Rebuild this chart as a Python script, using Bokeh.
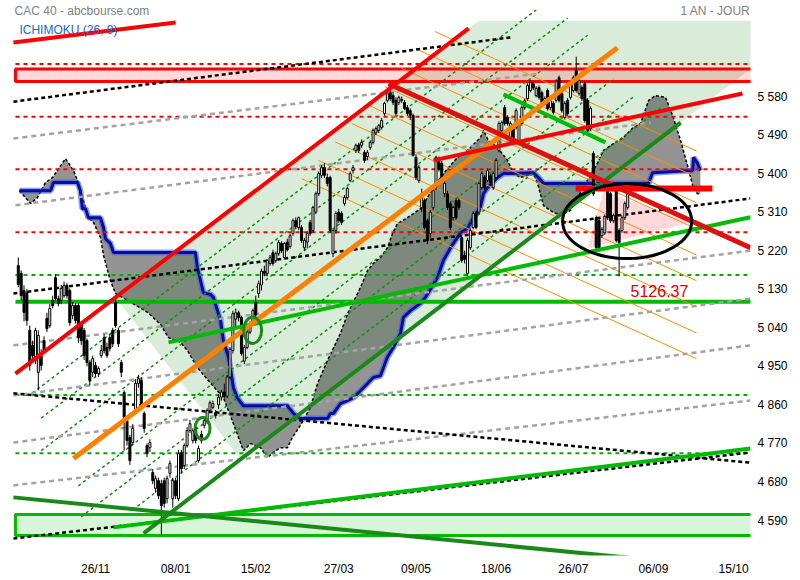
from bokeh.plotting import figure
from bokeh.models import Range1d, LinearAxis, FixedTicker, Label, ColumnDataSource
from bokeh.embed import file_html
from bokeh.resources import INLINE

# ---------------- axis data ----------------
X_TICKS = [27, 55, 83, 112, 139, 167, 194, 222, 250]
X_LABELS = ["26/11", "08/01", "15/02", "27/03", "09/05", "18/06", "26/07", "06/09", "15/10"]
Y_TICKS = [4590, 4680, 4770, 4860, 4950, 5040, 5130, 5220, 5310, 5400, 5490, 5580]

# ---------------- daily candles (trading-day index 0..213) ----------------
OPEN = [5185, 5167, 5127, 5122, 5034, 4999, 4964, 4936, 4975, 5010,
        5062, 5045, 5104, 5157, 5108, 5104, 5115, 5139, 5127, 5069,
        5092, 5092, 5050, 5034, 5010, 4959, 4936, 4952, 4933, 4975,
        5017, 4994, 5017, 5034, 5099, 5034, 4959, 4889, 4823, 4784,
        4772, 4847, 4910, 4917, 4840, 4765, 4760, 4702, 4665, 4683,
        4676, 4683, 4641, 4700, 4641, 4683, 4641, 4749, 4718, 4765,
        4800, 4777, 4807, 4730, 4791, 4812, 4823, 4847, 4854, 4842,
        4860, 4878, 4890, 4880, 4925, 4987, 5060, 5075, 5064, 4962,
        4994, 5030, 5050, 5100, 5120, 5140, 5172, 5167, 5190, 5215,
        5197, 5213, 5237, 5204, 5240, 5230, 5260, 5290, 5274, 5274,
        5227, 5240, 5286, 5267, 5310, 5353, 5396, 5414, 5391, 5391,
        5213, 5267, 5310, 5307, 5330, 5344, 5384, 5407, 5454, 5466,
        5466, 5449, 5440, 5461, 5473, 5495, 5501, 5508, 5540, 5571,
        5589, 5582, 5571, 5566, 5573, 5566, 5554, 5547, 5536, 5438,
        5384, 5320, 5337, 5290, 5260, 5320, 5368, 5430, 5424, 5353,
        5353, 5330, 5297, 5337, 5337, 5250, 5210, 5167, 5227, 5274,
        5307, 5310, 5367, 5391, 5384, 5395, 5367, 5391, 5454, 5501,
        5554, 5531, 5477, 5505, 5508, 5477, 5517, 5554, 5575, 5594,
        5610, 5582, 5601, 5589, 5566, 5594, 5554, 5564, 5571, 5624,
        5587, 5531, 5571, 5578, 5594, 5641, 5587, 5601, 5610, 5571,
        5505, 5447, 5297, 5290, 5255, 5262, 5361, 5353, 5290, 5361,
        5267, 5267, 5297, 5321]
HIGH = [5204, 5174, 5139, 5130, 5045, 5010, 5040, 5034, 4990, 5020,
        5075, 5095, 5115, 5165, 5115, 5140, 5148, 5145, 5132, 5100,
        5098, 5097, 5055, 5040, 5015, 4965, 4975, 4960, 4950, 5000,
        5025, 5005, 5025, 5040, 5110, 5040, 4965, 4894, 4830, 4790,
        4815, 4920, 4930, 4925, 4845, 4770, 4780, 4710, 4695, 4690,
        4685, 4690, 4695, 4730, 4690, 4690, 4755, 4755, 4770, 4808,
        4825, 4805, 4812, 4765, 4800, 4830, 4852, 4870, 4870, 4848,
        4885, 4895, 4910, 4930, 4995, 5080, 5085, 5080, 5068, 5000,
        5035, 5055, 5085, 5115, 5150, 5178, 5185, 5200, 5210, 5222,
        5218, 5245, 5242, 5240, 5248, 5260, 5295, 5298, 5300, 5280,
        5250, 5265, 5292, 5325, 5358, 5405, 5420, 5425, 5400, 5395,
        5270, 5312, 5318, 5312, 5350, 5370, 5405, 5420, 5470, 5472,
        5480, 5455, 5455, 5478, 5505, 5510, 5516, 5530, 5568, 5592,
        5598, 5590, 5578, 5582, 5580, 5572, 5560, 5552, 5540, 5445,
        5420, 5365, 5342, 5295, 5315, 5368, 5442, 5440, 5430, 5382,
        5360, 5335, 5325, 5342, 5342, 5255, 5220, 5250, 5272, 5312,
        5312, 5382, 5405, 5396, 5412, 5400, 5405, 5436, 5522, 5524,
        5560, 5536, 5522, 5510, 5552, 5522, 5559, 5575, 5611, 5618,
        5615, 5604, 5606, 5594, 5580, 5599, 5576, 5569, 5620, 5629,
        5592, 5569, 5576, 5615, 5629, 5673, 5622, 5606, 5615, 5576,
        5557, 5452, 5302, 5295, 5275, 5305, 5366, 5358, 5307, 5366,
        5272, 5302, 5335, 5365]
LOW = [5135, 5104, 5055, 5045, 4940, 4964, 4955, 4894, 4940, 4980,
       5030, 5040, 5085, 5100, 5090, 5095, 5110, 5108, 5045, 5060,
       5050, 5005, 5000, 4965, 4950, 4905, 4925, 4925, 4925, 4970,
       4980, 4970, 4985, 4995, 5040, 4995, 4925, 4753, 4765, 4720,
       4765, 4840, 4900, 4850, 4795, 4738, 4750, 4675, 4655, 4640,
       4556, 4620, 4630, 4690, 4620, 4640, 4635, 4700, 4710, 4760,
       4795, 4770, 4770, 4725, 4770, 4805, 4815, 4840, 4850, 4828,
       4850, 4870, 4875, 4875, 4920, 4980, 5040, 5055, 4975, 4955,
       4990, 5025, 5045, 5065, 5110, 5127, 5160, 5160, 5185, 5185,
       5192, 5208, 5215, 5200, 5218, 5225, 5255, 5270, 5268, 5238,
       5220, 5225, 5255, 5262, 5305, 5348, 5390, 5390, 5370, 5262,
       5205, 5260, 5285, 5280, 5325, 5340, 5380, 5400, 5448, 5448,
       5460, 5425, 5432, 5455, 5468, 5490, 5495, 5503, 5535, 5566,
       5570, 5560, 5535, 5560, 5565, 5548, 5535, 5525, 5440, 5385,
       5378, 5310, 5270, 5235, 5250, 5315, 5362, 5405, 5380, 5345,
       5315, 5268, 5290, 5292, 5315, 5192, 5190, 5160, 5222, 5270,
       5270, 5305, 5362, 5362, 5380, 5375, 5362, 5386, 5450, 5496,
       5512, 5512, 5472, 5472, 5503, 5472, 5512, 5549, 5570, 5590,
       5595, 5578, 5573, 5561, 5561, 5547, 5549, 5538, 5566, 5566,
       5542, 5526, 5535, 5573, 5589, 5589, 5582, 5570, 5519, 5496,
       5500, 5348, 5222, 5222, 5250, 5257, 5292, 5285, 5285, 5239,
       5160, 5262, 5292, 5316]
CLOSE = [5141, 5115, 5076, 5057, 4952, 4975, 5034, 5022, 4952, 4987,
         5038, 5085, 5092, 5108, 5097, 5132, 5139, 5115, 5052, 5092,
         5057, 5017, 5010, 4975, 4959, 4917, 4968, 4933, 4945, 4987,
         4987, 4975, 4992, 5003, 5045, 5003, 4936, 4831, 4777, 4730,
         4805, 4910, 4921, 4858, 4805, 4746, 4772, 4683, 4688, 4648,
         4625, 4630, 4688, 4723, 4683, 4648, 4746, 4711, 4765, 4800,
         4816, 4800, 4777, 4758, 4777, 4823, 4847, 4865, 4863, 4835,
         4878, 4890, 4880, 4925, 4990, 5073, 5075, 5064, 4980, 4994,
         5030, 5050, 5080, 5070, 5143, 5172, 5167, 5197, 5204, 5190,
         5213, 5239, 5220, 5237, 5222, 5255, 5290, 5276, 5297, 5244,
         5244, 5260, 5260, 5321, 5353, 5400, 5414, 5396, 5377, 5267,
         5267, 5307, 5290, 5286, 5344, 5365, 5400, 5414, 5466, 5454,
         5473, 5431, 5449, 5473, 5501, 5505, 5512, 5524, 5564, 5587,
         5575, 5566, 5540, 5578, 5571, 5552, 5540, 5536, 5442, 5391,
         5414, 5350, 5274, 5244, 5310, 5360, 5438, 5410, 5384, 5377,
         5321, 5274, 5321, 5297, 5321, 5197, 5200, 5244, 5267, 5307,
         5274, 5377, 5400, 5367, 5407, 5380, 5400, 5431, 5517, 5519,
         5517, 5517, 5517, 5477, 5547, 5517, 5554, 5570, 5606, 5613,
         5600, 5599, 5578, 5566, 5575, 5552, 5571, 5543, 5615, 5571,
         5547, 5564, 5540, 5610, 5624, 5594, 5617, 5575, 5524, 5501,
         5552, 5353, 5227, 5227, 5270, 5300, 5297, 5290, 5302, 5244,
         5239, 5297, 5330, 5360]

# ---------------- Ichimoku cloud (projected 26 days) ----------------
SPAN_A_I = [0.4, 4.3, 6.7, 9.5, 12.0, 16.5, 19.3, 21.0, 24.5, 26.3,
            28.7, 29.8, 31.2, 32.2, 34.0, 38.2, 45.2, 49.7, 52.5, 56.7,
            59.1, 62.6, 68.2, 71.7, 75.2, 78.7, 81.2, 84.7, 87.1, 89.2,
            91.6, 94.1, 95.8, 98.6, 102.1, 104.6, 108.1, 112.6, 115.1, 119.6,
            122.1, 124.1, 126.6, 129.0, 130.8, 132.5, 136.0, 140.6, 145.1, 148.6,
            153.5, 157.0, 161.5, 162.6, 164.3, 167.5, 171.0, 173.1, 175.5, 180.1,
            181.5, 183.6, 187.1, 189.5, 193.0, 195.5, 198.9, 202.4, 204.5, 208.0,
            211.5, 215.0, 217.5, 220.3, 222.7, 226.2, 228.7, 231.5, 233.9, 236.0,
            237.4, 238.4]
SPAN_A_V = [5360, 5330, 5344, 5379, 5391, 5435, 5407, 5379, 5297, 5286,
            5251, 5209, 5174, 5150, 5120, 5104, 5076, 5048, 5017, 5006,
            4987, 4947, 4903, 4877, 4816, 4753, 4770, 4760, 4737, 4749,
            4760, 4760, 4784, 4812, 4854, 4910, 4964, 5027, 5073, 5134,
            5174, 5190, 5204, 5227, 5260, 5283, 5297, 5318, 5367, 5400,
            5438, 5454, 5484, 5501, 5477, 5461, 5431, 5400, 5391, 5400,
            5377, 5325, 5309, 5304, 5314, 5344, 5384, 5424, 5454, 5470,
            5484, 5508, 5517, 5571, 5582, 5578, 5536, 5477, 5419, 5365,
            5353, 5353]
SPAN_B_I = [0.4, 11.3, 12.3, 20.7, 21.7, 22.4, 23.5, 24.5, 28.7, 29.8,
            30.5, 32.2, 33.3, 61.9, 62.6, 63.7, 64.7, 67.2, 68.2, 70.7,
            71.7, 73.5, 75.2, 76.5, 78.7, 94.1, 96.2, 98.6, 108.1, 109.1,
            110.2, 112.6, 115.1, 117.2, 119.6, 122.1, 124.1, 126.6, 129.0, 131.1,
            133.6, 134.6, 137.1, 140.6, 142.3, 146.5, 148.6, 151.1, 154.6, 157.0,
            159.1, 161.5, 162.6, 164.0, 167.5, 169.6, 180.1, 181.8, 183.6, 220.3,
            221.7, 235.7, 236.0, 237.4, 238.4]
SPAN_B_V = [5360, 5360, 5379, 5379, 5360, 5318, 5318, 5297, 5297, 5274,
            5248, 5237, 5216, 5216, 5181, 5150, 5122, 5118, 5111, 5057,
            5010, 4971, 4900, 4877, 4858, 4858, 4840, 4828, 4828, 4840,
            4840, 4863, 4870, 4877, 4893, 4910, 4924, 4928, 4971, 4994,
            5027, 5064, 5080, 5097, 5111, 5157, 5197, 5227, 5262, 5272,
            5297, 5321, 5353, 5367, 5391, 5400, 5402, 5391, 5377, 5377,
            5402, 5407, 5438, 5424, 5407]

# ---------------- drawn analysis (index, price) ----------------
FAN_ZONE_I = [34.0, 77.7, 257.0, 257.0, 161.1]
FAN_ZONE_V = [5111, 4733, 5650, 5757, 5757]
PINK_ZONE_I = [204.5, 198.9, 234.9]
PINK_ZONE_V = [5360, 5225, 5286]

RED_DASH_LEVELS = [5656, 5533, 5410, 5263]
GREEN_DASH_LEVELS = [5163, 4883, 4747]
GREEN_SOLID_LEVEL = 5101
RED_ZONE = (5615, 5644)
GREEN_ZONE = (4555, 4604)
RED_SHORT = (194.8, 242.6, 5365)
LEVEL_START = -1.0
LEVEL_END = 257.0

RED_TL_I = [[-1.0, 157.4], [-1.7, 55.0], [145.1, 253.1]]
RED_TL_V = [[4933, 5739], [5706, 5753], [5431, 5587]]
RED_DOWN_I = [129.4, 255.9]
RED_DOWN_V = [5610, 5227]
ORANGE_I = [19.3, 209.4]
ORANGE_V = [4735, 5694]
DKGREEN_I = [[43.8, 231.5], [-1.7, 222.7]]
DKGREEN_V = [[4560, 5519], [4644, 4497]]
GREEN_TL_I = [[33.3, 255.9], [52.5, 255.9], [169.6, 205.2]]
GREEN_TL_V = [[4574, 4758], [5006, 5298], [5585, 5473]]
BLACK_DASH_I = [[-1.7, 172.0], [-1.7, 255.9], [-1.7, 255.9], [-1.7, 255.9]]
BLACK_DASH_V = [[5568, 5718], [5120, 5342], [4887, 4725], [4548, 4749]]
GRAY_DASH_I = [[-1.7, 182.5], [-1.0, 221.0], [-1.7, 255.9], [-1.7, 255.9], [-1.7, 255.9], [-1.7, 255.9]]
GRAY_DASH_V = [[5482, 5634], [5326, 5519], [4999, 5220], [4882, 5108], [4772, 4999], [4672, 4870]]
FAN_DOT_I = [[5, 181], [8, 192], [8, 199], [21, 208], [22, 215], [40, 225]]
FAN_DOT_V = [[4888, 5782], [4829, 5763], [4753, 5723], [4671, 5621], [4599, 5579], [4615, 5555]]
THIN_OR_I = [[145.5, 237], [139.7, 237], [133.9, 237], [128.1, 237], [122.3, 237],
             [116.5, 237], [110.7, 237], [104.9, 237], [99.1, 237]]
THIN_OR_V = [[5732, 5453], [5689, 5392], [5646, 5332], [5603, 5271], [5560, 5210],
             [5517, 5150], [5474, 5089], [5431, 5028], [5388, 4968]]
ELLIPSE = (212.8, 5289, 45.1, 175)
CIRCLES_I = [81.9, 64.4]
CIRCLES_V = [5034, 4805]
CIRCLES_W = [6.3, 5.2]
CIRCLES_H = [61, 51]

LAST_HIGH = 5673
LAST_PRICE = 5362
LAST_LOW = 4556
MIN_TEXT = "5126.37"
MIN_TEXT_POS = (214.0, 5127)

FONT = "Liberation Sans"

p = figure(width=800, height=580,
           x_range=Range1d(-6.22, 255.92), y_range=Range1d(4508.3, 5804.2),
           output_backend="svg", toolbar_location=None,
           x_axis_location=None, y_axis_location=None,
           min_border=0, min_border_left=0, min_border_top=0,
           min_border_right=50, min_border_bottom=25,
           outline_line_color=None, background_fill_color="white",
           border_fill_color="white")
p.xgrid.grid_line_color = None
p.ygrid.grid_line_color = None

# axes
yax = LinearAxis(ticker=FixedTicker(ticks=Y_TICKS),
                 major_label_overrides={t: f"{t:,}".replace(",", " ") for t in Y_TICKS},
                 axis_line_color=None, major_tick_line_color=None, minor_tick_line_color=None,
                 major_tick_out=0, major_tick_in=0, minor_tick_out=0, minor_tick_in=0,
                 major_label_standoff=7, major_label_text_font_size="12px",
                 major_label_text_font=FONT, major_label_text_color="black")
p.add_layout(yax, "right")
xax = LinearAxis(ticker=FixedTicker(ticks=X_TICKS),
                 major_label_overrides=dict(zip(X_TICKS, X_LABELS)),
                 axis_line_color=None, major_tick_line_color=None, minor_tick_line_color=None,
                 major_tick_out=0, major_tick_in=0, minor_tick_out=0, minor_tick_in=0,
                 major_label_standoff=6, major_label_text_font_size="12px",
                 major_label_text_font=FONT, major_label_text_color="black")
p.add_layout(xax, "below")

# zones
p.patch(FAN_ZONE_I, FAN_ZONE_V, fill_color="#d9ecd9", line_color=None)
p.patch(PINK_ZONE_I, PINK_ZONE_V, fill_color="red", fill_alpha=0.15, line_color=None)

cloud_x = SPAN_A_I + SPAN_B_I[::-1]
cloud_y = SPAN_A_V + SPAN_B_V[::-1]
p.patch(cloud_x, cloud_y, fill_color="black", fill_alpha=0.42, line_color=None)
p.line(SPAN_A_I, SPAN_A_V, line_color="black", line_width=1.5, line_dash="3 2")
p.line(SPAN_B_I, SPAN_B_V, line_color="#3a5ee8", line_width=6, line_alpha=0.6)
p.line(SPAN_B_I, SPAN_B_V, line_color="#0b0b9c", line_width=3)

# rectangles
p.quad(left=[LEVEL_START], right=[LEVEL_END], bottom=[RED_ZONE[0]], top=[RED_ZONE[1]],
       fill_color="red", fill_alpha=0.15, line_color="red", line_width=3)
p.quad(left=[LEVEL_START], right=[LEVEL_END], bottom=[GREEN_ZONE[0]], top=[GREEN_ZONE[1]],
       fill_color="#00bb00", fill_alpha=0.15, line_color="#00bb00", line_width=3)

# horizontal levels
n = len(RED_DASH_LEVELS)
p.segment(x0=[LEVEL_START] * n, y0=RED_DASH_LEVELS, x1=[LEVEL_END] * n, y1=RED_DASH_LEVELS,
          line_color="red", line_width=2, line_dash="4 4")
n = len(GREEN_DASH_LEVELS)
p.segment(x0=[LEVEL_START] * n, y0=GREEN_DASH_LEVELS, x1=[LEVEL_END] * n, y1=GREEN_DASH_LEVELS,
          line_color="#00aa00", line_width=2, line_dash="4 4")
p.segment(x0=[LEVEL_START], y0=[GREEN_SOLID_LEVEL], x1=[LEVEL_END], y1=[GREEN_SOLID_LEVEL],
          line_color="#00bb00", line_width=4)

# thin fans
p.multi_line(THIN_OR_I, THIN_OR_V, line_color="#ff8c00", line_width=1)
p.multi_line(FAN_DOT_I, FAN_DOT_V, line_color="#128c12", line_width=1.5, line_dash="3 3")
p.multi_line(GRAY_DASH_I, GRAY_DASH_V, line_color="#a3a3a3", line_width=2.5, line_dash="5 4")
p.multi_line(BLACK_DASH_I, BLACK_DASH_V, line_color="black", line_width=2.5, line_dash="4 3")

# candles
idx = list(range(len(CLOSE)))
src = ColumnDataSource(dict(
    x=idx, o=OPEN, h=HIGH, l=LOW, c=CLOSE,
    top=[max(a, b) for a, b in zip(OPEN, CLOSE)],
    bot=[min(a, b) for a, b in zip(OPEN, CLOSE)],
    fill=["white" if c >= o else "black" for o, c in zip(OPEN, CLOSE)],
))
p.segment(x0="x", y0="l", x1="x", y1="h", source=src, line_color="black", line_width=1)
p.vbar(x="x", width=0.7, top="top", bottom="bot", source=src,
       fill_color="fill", line_color="black", line_width=1)

# thick trend lines
p.segment(x0=[RED_SHORT[0]], y0=[RED_SHORT[2]], x1=[RED_SHORT[1]], y1=[RED_SHORT[2]],
          line_color="red", line_width=6)
p.multi_line(GREEN_TL_I, GREEN_TL_V, line_color="#00bb00", line_width=4)
p.multi_line(DKGREEN_I, DKGREEN_V, line_color="#1a891a", line_width=4)
p.line(ORANGE_I, ORANGE_V, line_color="#ff8000", line_width=5)
p.line(RED_DOWN_I, RED_DOWN_V, line_color="#dd1111", line_width=5)
p.multi_line(RED_TL_I, RED_TL_V, line_color="red", line_width=4)

# ellipses
p.ellipse(x=[ELLIPSE[0]], y=[ELLIPSE[1]], width=[ELLIPSE[2]], height=[ELLIPSE[3]],
          fill_color=None, line_color="black", line_width=3)
p.ellipse(x=CIRCLES_I, y=CIRCLES_V, width=CIRCLES_W, height=CIRCLES_H,
          fill_color=None, line_color="#1a891a", line_width=3)

# texts
p.add_layout(Label(x=-1.3, y=5797, text="CAC 40 - abcbourse.com", text_baseline="top",
                   text_font=FONT, text_font_size="12px", text_color="#808080"))
p.add_layout(Label(x=255.9, y=5797, text="1 AN - JOUR", text_baseline="top", text_align="right",
                   text_font=FONT, text_font_size="12px", text_color="#808080"))
p.add_layout(Label(x=0.4, y=5752, text="ICHIMOKU (26, 9)", text_baseline="top",
                   text_font=FONT, text_font_size="12px", text_color="#1a66cc"))
p.add_layout(Label(x=MIN_TEXT_POS[0], y=MIN_TEXT_POS[1], text=MIN_TEXT, text_baseline="middle",
                   text_font=FONT, text_font_size="16px", text_color="#e00000"))

for val, col in [(LAST_HIGH, "#0a7a0a"), (LAST_PRICE, "#3d6ef2"), (LAST_LOW, "#b00000")]:
    p.add_layout(Label(x=256.6, y=val, text=" " + f"{val:,}".replace(",", " ") + "      ",
                       text_baseline="middle", text_font=FONT, text_font_size="12px",
                       text_color="white", background_fill_color=col))

open("out.html", "w").write(file_html(p, INLINE))
